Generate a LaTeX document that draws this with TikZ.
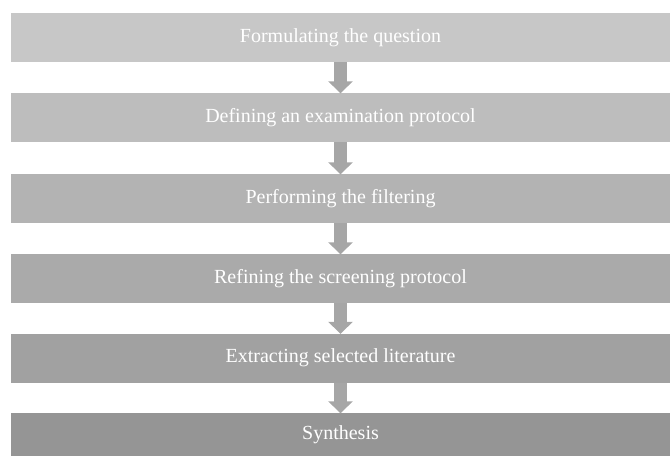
\documentclass[tikz,border=0pt]{standalone}
\usepackage{fontspec}
\setmainfont{Liberation Serif}
\usetikzlibrary{arrows.meta}
\definecolor{bar1}{RGB}{199,199,199}
\definecolor{bar2}{RGB}{189,189,189}
\definecolor{bar3}{RGB}{179,179,179}
\definecolor{bar4}{RGB}{170,170,170}
\definecolor{bar5}{RGB}{161,161,161}
\definecolor{bar6}{RGB}{149,149,149}
\definecolor{arrowgray}{RGB}{166,166,166}
\tikzstyle{stage}=[rectangle,inner sep=0pt,minimum width=659pt,minimum height=49pt,text=white,font=\fontsize{20}{22}\selectfont]
\tikzstyle{edge} = [draw,arrowgray,line width=13pt,-{Triangle[width=24pt,length=12pt]},shorten >=-0.5pt]

\begin{document}
\begin{tikzpicture}[x=1pt,y=1pt]
        \clip (0,0) rectangle (670,-456);
        \node[stage,fill=bar1] (1) at (340.5,-37.5) {Formulating the question};
        \node[stage,fill=bar2] (2) at (340.5,-117.5) {Defining an examination protocol};
        \node[stage,fill=bar3] (3) at (340.5,-198.5) {Performing the filtering};
        \node[stage,fill=bar4] (4) at (340.5,-278.5) {Refining the screening protocol};
        \node[stage,fill=bar5] (5) at (340.5,-358) {Extracting selected literature};
        \node[stage,fill=bar6,minimum height=43pt] (6) at (340.5,-434.5) {Synthesis};
        \path[edge] (1) -- (2);
        \path[edge] (2) -- (3);
        \path[edge] (3) -- (4);
        \path[edge] (4) -- (5);
        \path[edge] (5) -- (6);
    \end{tikzpicture}
\end{document}
